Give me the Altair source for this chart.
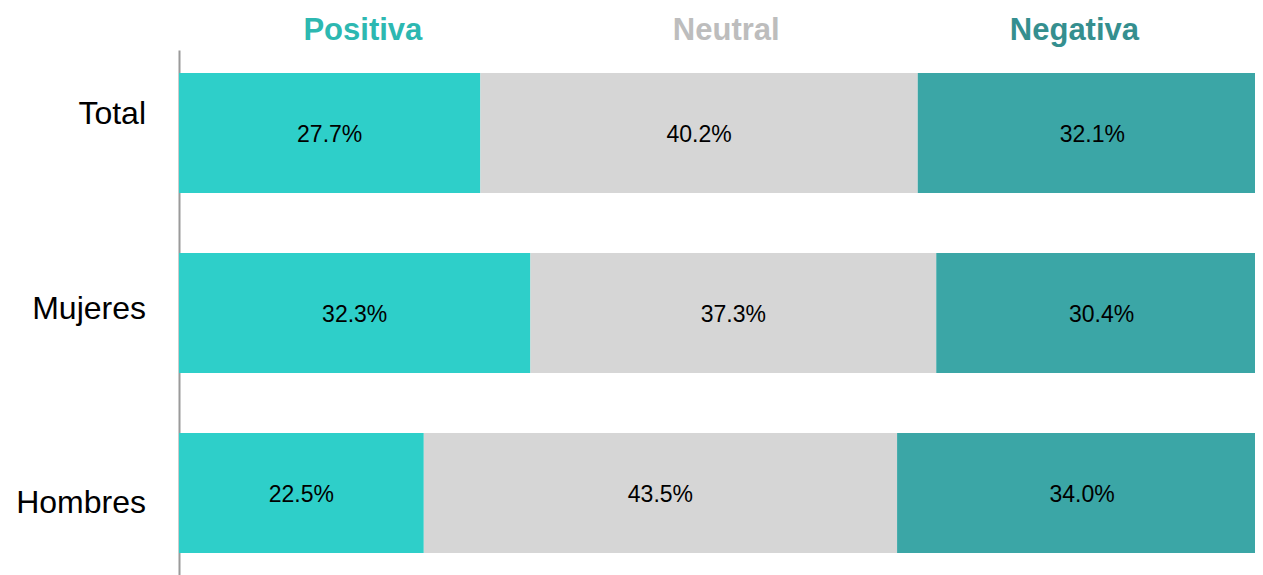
import altair as alt
import pandas as pd

categories = ["Total", "Mujeres", "Hombres"]
series = ["Positiva", "Neutral", "Negativa"]
positiva = [27.7, 32.3, 22.5]
neutral = [40.2, 37.3, 43.5]
negativa = [32.1, 30.4, 34.0]
colors = ["#2ECFC9", "#D6D6D6", "#3BA6A6"]
header_colors = ["#2DB8B1", "#BDBDBD", "#358F8F"]
header_x = [16.9, 50.3, 82.3]

rows = []
for i, cat in enumerate(categories):
    start = 0.0
    for s, vals in zip(series, [positiva, neutral, negativa]):
        v = vals[i]
        rows.append({"cat": cat, "serie": s, "value": v, "start": start,
                     "end": start + v, "mid": start + v / 2,
                     "label": f"{v:.1f}%"})
        start += v
df = pd.DataFrame(rows)
hdr = pd.DataFrame({"serie": series, "x": header_x})
cats_df = pd.DataFrame({"cat": categories})

FONT = "Liberation Sans"
xscale = alt.Scale(domain=[0, 100], nice=False, zero=True)
yscale = alt.Scale(domain=categories, paddingInner=0.3333, paddingOuter=0.128)

bars = alt.Chart(df).mark_bar(strokeWidth=0).encode(
    x=alt.X("start:Q", scale=xscale, axis=None),
    x2="end:Q",
    y=alt.Y("cat:N", sort=categories, scale=yscale,
            axis=alt.Axis(title=None, labels=False, ticks=False, domain=True,
                          domainColor="#9A9A9A", domainWidth=2, grid=False)),
    color=alt.Color("serie:N", scale=alt.Scale(domain=series, range=colors), legend=None),
)

vals = alt.Chart(df).mark_text(font=FONT, fontSize=23, color="#000000",
                               baseline="middle", dy=2).encode(
    x=alt.X("mid:Q", scale=xscale),
    y=alt.Y("cat:N", sort=categories, scale=yscale),
    text="label:N",
)

headers = alt.Chart(hdr).mark_text(font=FONT, fontSize=31, fontWeight="bold", baseline="middle").encode(
    x=alt.X("x:Q", scale=xscale),
    y=alt.value(-19),
    text="serie:N",
    color=alt.Color("serie:N", scale=alt.Scale(domain=series, range=header_colors), legend=None),
)

cat_labels = alt.Chart(cats_df).mark_text(font=FONT, fontSize=32, color="#000000",
                                          align="right", baseline="middle", dy=1).encode(
    x=alt.value(-33),
    y=alt.Y("cat:N", sort=categories, axis=None,
            scale=alt.Scale(type="point", domain=categories, range=[63, 452], padding=0)),
    text="cat:N",
)

main = alt.layer(bars, vals).resolve_scale(color="independent")
chart = alt.layer(main, headers, cat_labels).resolve_scale(
    y="independent", color="independent"
).properties(
    width=1088, height=526,
    autosize=alt.AutoSizeParams(type="none"),
    padding={"left": 171, "top": 42, "right": -12, "bottom": 0},
).configure_view(stroke=None)

chart.save("out.html", embed_options={"renderer": "svg", "actions": False})
